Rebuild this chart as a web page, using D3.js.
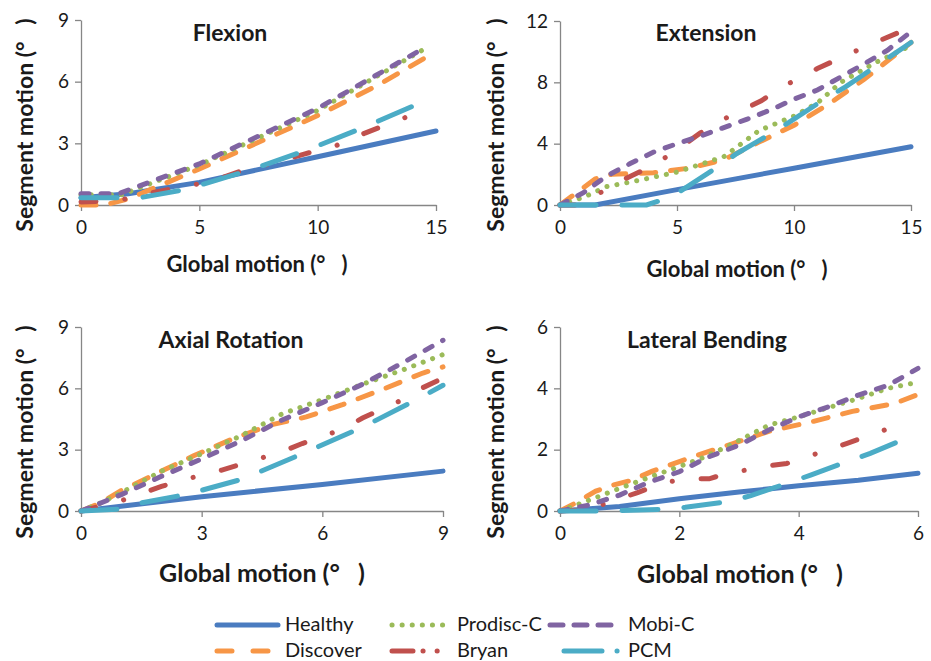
<!DOCTYPE html>
<html>
<head>
<meta charset="utf-8">
<script src="https://cdn.jsdelivr.net/npm/d3@7"></script>
<style>
body { margin: 0; background: #fff; }
text { font-family: Lato, "Open Sans", sans-serif; fill: #1a1a1a; }
</style>
</head>
<body>
<svg width="931" height="661"></svg>
<script>
// series names, in drawing order
var seriesNames = ["Healthy", "Discover", "Prodisc-C", "Bryan", "Mobi-C", "PCM"];

// panel titles and ticks
var panelTitles = ["Flexion", "Extension", "Axial Rotation", "Lateral Bending"];
var flexionXTicks = [0, 5, 10, 15], flexionYTicks = [0, 3, 6, 9];
var extensionXTicks = [0, 5, 10, 15], extensionYTicks = [0, 4, 8, 12];
var axialXTicks = [0, 3, 6, 9], axialYTicks = [0, 3, 6, 9];
var lateralXTicks = [0, 2, 4, 6], lateralYTicks = [0, 2, 4, 6];

// Flexion [global, segment]
var flexionHealthy = [[0,0.35],[2,0.55],[5,1.1],[10,2.35],[15,3.6]];
var flexionDiscover = [[0,0],[1,0],[2,0.3],[5,1.75],[10,4.35],[12.5,5.8],[14.6,7.2]];
var flexionProdisc = [[0,0.5],[1.7,0.5],[5,1.95],[10,4.6],[14.6,7.65]];
var flexionBryan = [[0,0.15],[1.5,0.2],[3,0.6],[5.5,1.15],[7,1.75],[8,2.0],[9.5,2.5],[10.8,2.9],[12,3.5],[13,3.95],[14.5,4.6]];
var flexionMobi = [[0,0.55],[1.6,0.55],[2,0.73],[5,2.0],[10,4.7],[14.6,7.7]];
var flexionPcm = [[0,0.35],[1.7,0.35],[2.6,0.38],[4.4,0.75],[7,1.65],[9.5,2.65],[12,3.8],[14.4,5.0]];

// Extension
var extensionHealthy = [[0,0],[1.5,0],[5,1.0],[10,2.4],[15,3.8]];
var extensionDiscover = [[0,0],[0.8,0.9],[1.5,1.7],[2.2,2.0],[4,2.1],[5.5,2.4],[7,2.95],[8.5,4.1],[10,5.2],[11.5,6.6],[13,8.2],[15,10.6]];
var extensionProdisc = [[0,0],[1,0.5],[2,1.2],[3.5,1.65],[5,2.15],[7,3.15],[8.5,4.85],[10,5.8],[11,6.65],[12,8.0],[13.5,9.3],[15,10.4]];
var extensionBryan = [[0,0],[0.7,0],[1.5,0.6],[2.5,1.5],[4,2.6],[5,3.6],[6,4.7],[7,5.6],[8.6,6.8],[9.5,7.7],[11,8.9],[12,9.6],[13.3,10.5],[14.4,11.2],[15,11.7]];
var extensionMobi = [[0,0],[1,0.8],[2,1.9],[3,2.7],[4,3.45],[5,4.0],[6,4.5],[7,5.05],[8,5.6],[9,6.2],[10,6.9],[11,7.5],[12,8.35],[13,9.2],[14,10.1],[15,11.3]];
var extensionPcm = [[0,0],[2.5,0],[3.7,0],[4.4,0.35],[5.2,0.95],[6.7,2.45],[7.5,3.3],[9,4.65],[9.8,5.4],[11.3,6.9],[12.2,7.7],[13.5,9.05],[15,10.6]];

// Axial Rotation
var axialHealthy = [[0,0],[3,0.7],[6,1.3],[9,1.95]];
var axialDiscover = [[0,0],[0.5,0.4],[1,1.0],[2,1.95],[2.8,2.7],[3.8,3.55],[4.7,4.2],[5.6,4.6],[6.5,5.2],[7.5,5.95],[8.5,6.75],[9,7.05]];
var axialProdisc = [[0,0],[0.5,0.4],[1,0.9],[2,1.95],[3,2.8],[4,3.7],[5,4.75],[6,5.45],[7,6.2],[8,6.9],[9,7.65]];
var axialBryan = [[0,0],[1,0.5],[2,1.2],[2.5,1.5],[3.5,2.0],[4,2.3],[5,2.9],[5.5,3.3],[6.5,4.0],[7,4.55],[8,5.45],[8.3,5.85],[9,6.5]];
var axialMobi = [[0,0],[1,0.8],[2,1.7],[3,2.55],[4,3.45],[5,4.45],[6,5.3],[7,6.2],[8,7.25],[9,8.35]];
var axialPcm = [[0,0],[1,0.1],[1.5,0.4],[2.6,0.8],[4,1.55],[5.5,2.8],[7,4.1],[8.3,5.4],[9,6.15]];

// Lateral Bending
var lateralHealthy = [[0,0],[1,0.15],[2,0.4],[3,0.62],[4,0.82],[5,1.0],[6,1.23]];
var lateralDiscover = [[0,0],[0.25,0.25],[0.6,0.65],[0.9,0.85],[1.2,1.0],[1.55,1.3],[2.2,1.75],[2.9,2.2],[3.5,2.6],[4.2,2.9],[4.9,3.25],[5.6,3.5],[6,3.8]];
var lateralProdisc = [[0,0],[0.5,0.36],[1,0.74],[1.5,1.1],[2.35,1.7],[2.8,2.1],[3.5,2.8],[4,3.07],[5,3.67],[5.5,4.0],[6,4.2]];
var lateralBryan = [[0,0],[0.5,0.05],[0.7,0.2],[1.3,0.6],[1.7,0.9],[2.1,1.05],[2.5,1.05],[2.7,1.17],[3.4,1.45],[3.8,1.55],[4.5,2.0],[4.8,2.2],[5.6,2.75],[5.8,3.0]];
var lateralMobi = [[0,0],[0.5,0.2],[1,0.52],[1.5,0.95],[2,1.28],[2.5,1.77],[3,2.15],[3.5,2.64],[4,3.07],[4.5,3.4],[5,3.78],[5.5,4.1],[6,4.65]];
var lateralPcm = [[0,0],[0.7,0],[1.7,0.05],[2.1,0.12],[2.8,0.3],[3.2,0.5],[3.8,0.9],[4.2,1.17],[4.8,1.6],[5.2,1.88],[5.8,2.37]];

// line styles per series
var styles = [
  { color: "#4a7cc0", dash: null, legendDash: null },
  { color: "#f79646", dash: "15,15", legendDash: "15,21" },
  { color: "#9bbb59", dash: "0.1,10", legendDash: "0.1,10" },
  { color: "#c0504d", dash: "15,29,0.1,29", legendDash: "21,10,0.1,14,0.1,100" },
  { color: "#8064a2", dash: "8,12", legendDash: "13,11" },
  { color: "#4bacc6", dash: "36,26", legendDash: "38,15,0.1,100" }
];

// layout of each panel (pixel box of the plot area)
var panels = [
  { title: panelTitles[0], xt: flexionXTicks, yt: flexionYTicks, data: [flexionHealthy, flexionDiscover, flexionProdisc, flexionBryan, flexionMobi, flexionPcm],
    left: 81, right: 436, top: 20, bottom: 205, titleX: 230, titleY: 41, xlabX: 257, xlabY: 272, xlabSize: 22, ylabX: 33, ylabY: 125 },
  { title: panelTitles[1], xt: extensionXTicks, yt: extensionYTicks, data: [extensionHealthy, extensionDiscover, extensionProdisc, extensionBryan, extensionMobi, extensionPcm],
    left: 560, right: 911, top: 21, bottom: 205, titleX: 706, titleY: 41, xlabX: 737, xlabY: 277, xlabSize: 22, ylabX: 504, ylabY: 125 },
  { title: panelTitles[2], xt: axialXTicks, yt: axialYTicks, data: [axialHealthy, axialDiscover, axialProdisc, axialBryan, axialMobi, axialPcm],
    left: 81, right: 443, top: 327, bottom: 511, titleX: 231, titleY: 348, xlabX: 262, xlabY: 582, xlabSize: 25, ylabX: 33, ylabY: 432 },
  { title: panelTitles[3], xt: lateralXTicks, yt: lateralYTicks, data: [lateralHealthy, lateralDiscover, lateralProdisc, lateralBryan, lateralMobi, lateralPcm],
    left: 560, right: 918, top: 327, bottom: 511, titleX: 707, titleY: 348, xlabX: 740, xlabY: 583, xlabSize: 25, ylabX: 504, ylabY: 432 }
];

var svg = d3.select("svg");

panels.forEach(function (p) {
  var x = d3.scaleLinear().domain([0, d3.max(p.xt)]).range([p.left, p.right]);
  var y = d3.scaleLinear().domain([0, d3.max(p.yt)]).range([p.bottom, p.top]);
  var g = svg.append("g");

  // axes
  var ax = g.append("g").attr("transform", "translate(0," + p.bottom + ")")
    .call(d3.axisBottom(x).tickValues(p.xt).tickFormat(d3.format("d")).tickSize(6).tickPadding(10).tickSizeOuter(0));
  var ay = g.append("g").attr("transform", "translate(" + p.left + ",0)")
    .call(d3.axisLeft(y).tickValues(p.yt).tickFormat(d3.format("d")).tickSize(6).tickPadding(6).tickSizeOuter(0));
  [ax, ay].forEach(function (a) {
    a.select(".domain").attr("stroke", "#868686").attr("stroke-width", 1.3);
    a.selectAll(".tick line").attr("stroke", "#868686").attr("stroke-width", 1.3);
    a.selectAll(".tick text").style("font-size", "19px").attr("fill", "#1a1a1a");
  });

  // lines
  var line = d3.line().x(function (d) { return x(d[0]); }).y(function (d) { return y(d[1]); });
  p.data.forEach(function (s, i) {
    g.append("path")
      .attr("d", line(s))
      .attr("fill", "none")
      .attr("stroke", styles[i].color)
      .attr("stroke-width", 5)
      .attr("stroke-linecap", "round")
      .attr("stroke-dasharray", styles[i].dash);
  });

  // texts
  g.append("text").attr("x", p.titleX).attr("y", p.titleY).attr("text-anchor", "middle")
    .style("font-size", "23px").style("font-weight", "bold").text(p.title);
  g.append("text").attr("x", p.xlabX).attr("y", p.xlabY).attr("text-anchor", "middle")
    .style("font-size", p.xlabSize + "px").style("font-weight", "bold").style("white-space", "pre")
    .text("Global motion (°   )");
  g.append("text").attr("transform", "translate(" + p.ylabX + "," + p.ylabY + ") rotate(-90)")
    .attr("text-anchor", "middle")
    .style("font-size", "23px").style("font-weight", "bold").style("white-space", "pre")
    .text("Segment motion (°   )");
});

// legend (column-wise order)
var legendPos = [
  { lx: 217, lw: 61, ty: 625 }, { lx: 217, lw: 55, ty: 651 },
  { lx: 392, lw: 52, ty: 625 }, { lx: 392, lw: 55, ty: 651 },
  { lx: 550, lw: 67, ty: 625 }, { lx: 564, lw: 61, ty: 651 }
];
var textX = [285, 285, 457, 457, 628, 628];
var legend = svg.append("g");
seriesNames.forEach(function (name, i) {
  var lp = legendPos[i];
  legend.append("line")
    .attr("x1", lp.lx).attr("x2", lp.lx + lp.lw)
    .attr("y1", lp.ty).attr("y2", lp.ty)
    .attr("stroke", styles[i].color).attr("stroke-width", 5)
    .attr("stroke-linecap", "round")
    .attr("stroke-dasharray", styles[i].legendDash);
  legend.append("text").attr("x", textX[i]).attr("y", lp.ty + 6)
    .style("font-size", "20px").text(name);
});
</script>
</body>
</html>
